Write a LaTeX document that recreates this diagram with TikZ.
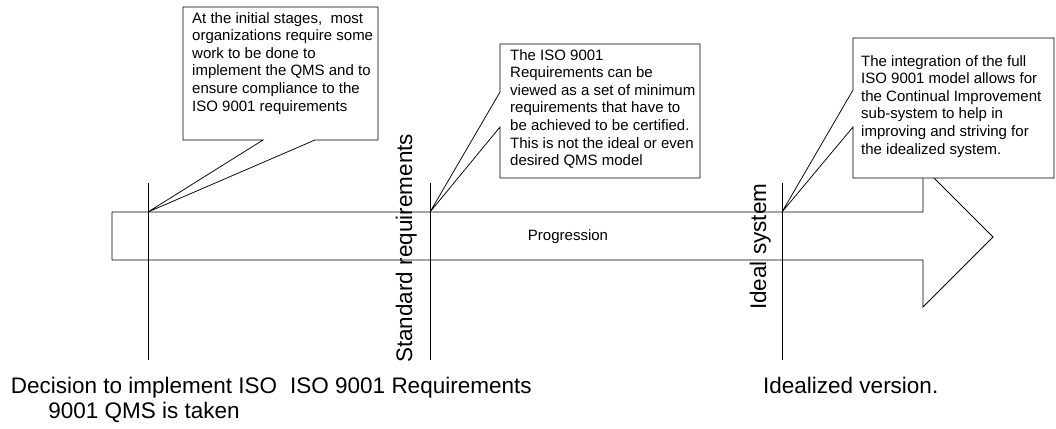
\documentclass[tikz,border=0pt]{standalone}
\usepackage{fontspec}
\setmainfont{Liberation Sans}
\begin{document}
\begin{tikzpicture}[x=1pt,y=-1pt,
  outline/.style={draw=black,line width=0.8pt,line join=miter},
  callout/.style={draw=black,fill=white,line width=0.75pt,line join=miter},
  marker/.style={draw=black,line width=0.9pt},
  notetext/.style={anchor=north west,inner sep=0pt,align=left,
    font=\fontsize{15}{17.6}\selectfont},
  label/.style={inner sep=0pt,font=\fontsize{22.5}{24.5}\selectfont},
  stage/.style={inner sep=0pt,rotate=90,font=\fontsize{22.5}{24.5}\selectfont}]
\useasboundingbox (0,0) rectangle (1056,428);

% progression arrow
\draw[outline] (112,212) -- (923,212) -- (923,167) -- (993,237)
  -- (923,307) -- (923,260) -- (112,260) -- cycle;
\node[inner sep=0pt,font=\fontsize{15}{17.6}\selectfont] (prog) at (568,237) {Progression};

% stage markers
\coordinate (t1) at (148,212);
\coordinate (t2) at (430,212);
\coordinate (t3) at (782,212);
\coordinate (b1) at (148,360);
\coordinate (b2) at (430,360);
\coordinate (b3) at (782,360);
\draw[marker] (148,183) -- (b1);
\draw[marker] (430,183) -- (b2);
\draw[marker] (782,183) -- (b3);

\node[stage,anchor=south west] (s2) at (417,363) {Standard requirements};
\node[stage,anchor=south west] (s3) at (771,310) {Ideal system};

% callouts
\draw[callout] (183,7) -- (378,7) -- (378,140) -- (315,140) -- (t1)
  -- (263,140) -- (183,140) -- cycle;
\node[notetext] (n1) at (192,12) {At the initial stages,\ \ most\\
  organizations require some\\ work to be done to\\
  implement the QMS and to\\ ensure compliance to the\\
  ISO 9001 requirements};

\draw[callout] (500,44) -- (700,44) -- (700,178) -- (500,178)
  -- (500,127) -- (t2) -- (500,92) -- cycle;
\node[notetext] (n2) at (510,49) {The ISO 9001\\ Requirements can be\\
  viewed as a set of minimum\\ requirements that have to\\
  be achieved to be certified.\\ This is not the ideal or even\\
  desired QMS model};

\draw[callout] (853,38) -- (1054,38) -- (1054,178) -- (853,178)
  -- (853,127) -- (t3) -- (853,90) -- cycle;
\node[notetext] (n3) at (861,55) {The integration of the full\\
  ISO 9001 model allows for\\ the Continual Improvement\\
  sub-system to help in\\ improving and striving for\\
  the idealized system.};

% stage captions
\node[label,align=center,anchor=north] (l1) at (144,377)
  {Decision to implement ISO\\ 9001 QMS is taken};
\node[label,anchor=north west] (l2) at (290,377) {ISO 9001 Requirements};
\node[label,anchor=north west] (l3) at (763,377) {Idealized version.};
\end{tikzpicture}
\end{document}
